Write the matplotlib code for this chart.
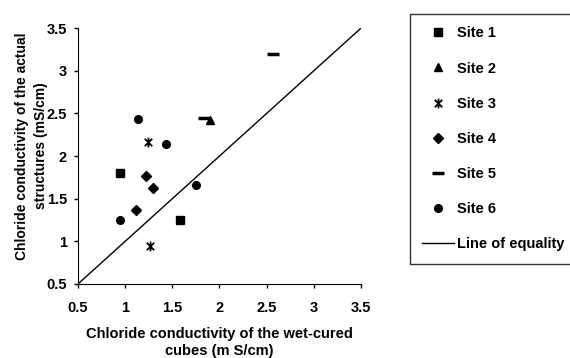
import numpy as np
import matplotlib.pyplot as plt
from matplotlib.path import Path

plt.rcParams['font.family'] = ['Liberation Sans', 'DejaVu Sans']
plt.rcParams['font.weight'] = 'bold'

# Chloride conductivity (mS/cm): wet-cured cubes vs actual structures
site1_x = [0.95, 1.58]
site1_y = [1.80, 1.25]
site2_x = [1.90]
site2_y = [2.42]
site3_x = [1.24, 1.26]
site3_y = [2.17, 0.94]
site4_x = [1.22, 1.30, 1.11]
site4_y = [1.77, 1.62, 1.37]
site5_x = [2.57, 1.84]
site5_y = [3.20, 2.45]
site6_x = [1.14, 1.43, 1.75, 0.95]
site6_y = [2.43, 2.14, 1.66, 1.25]
equality = [0.5, 3.5]

ticks = [0.5, 1, 1.5, 2, 2.5, 3, 3.5]
tick_labels = ['0.5', '1', '1.5', '2', '2.5', '3', '3.5']

# Excel-style star: an x with a vertical bar through it
star = Path([(-1, -1), (1, 1), (-1, 1), (1, -1), (0, -1.3), (0, 1.3)],
            [Path.MOVETO, Path.LINETO, Path.MOVETO, Path.LINETO,
             Path.MOVETO, Path.LINETO])

fig = plt.figure(figsize=(5.7, 3.58), dpi=100)
ax = fig.add_axes([0.137, 0.207, 0.496, 0.714])

ax.plot(site1_x, site1_y, 's', color='black', ms=5.5, ls='none', label='Site 1')
ax.plot(site2_x, site2_y, '^', color='black', ms=6, ls='none', label='Site 2')
ax.plot(site3_x, site3_y, marker=star, color='black', ms=7, mew=1.3,
        ls='none', label='Site 3')
ax.plot(site4_x, site4_y, 'D', color='black', ms=5, ls='none', label='Site 4')
ax.plot(site5_x, site5_y, '_', color='black', ms=9, mew=2.5, ls='none',
        label='Site 5')
ax.plot(site6_x, site6_y, 'o', color='black', ms=5.5, ls='none', label='Site 6')
ax.plot(equality, equality, '-', color='black', lw=1, label='Line of equality')

ax.set_xlim(0.5, 3.5)
ax.set_ylim(0.5, 3.5)
ax.set_xticks(ticks)
ax.set_xticklabels(tick_labels)
ax.set_yticks(ticks)
ax.set_yticklabels(tick_labels)
ax.tick_params(direction='out', length=3, width=1, labelsize=10.5)
ax.tick_params(axis='x', pad=9)
ax.tick_params(axis='y', pad=5)
for lab in ax.get_xticklabels() + ax.get_yticklabels():
    lab.set_fontweight('bold')
ax.spines['top'].set_visible(False)
ax.spines['right'].set_visible(False)

ax.set_xlabel('Chloride conductivity of the wet-cured\ncubes (m S/cm)',
              fontsize=10.5, fontweight='bold', labelpad=9, linespacing=1.3)
ax.set_ylabel('Chloride conductivity of the actual\nstructures (mS/cm)',
              fontsize=10, fontweight='bold', linespacing=1.45)
ax.yaxis.set_label_coords(-0.105, 0.54)

leg = fig.legend(loc='upper left', bbox_to_anchor=(0.719, 0.961),
                 frameon=True, fancybox=False, edgecolor='black',
                 fontsize=10.5, labelspacing=1.45, handlelength=2.2,
                 borderpad=0.85, handletextpad=0.2, borderaxespad=0)
leg.get_frame().set_linewidth(1)
for t in leg.get_texts():
    t.set_fontweight('bold')

fig.savefig('out.png', dpi=100)
